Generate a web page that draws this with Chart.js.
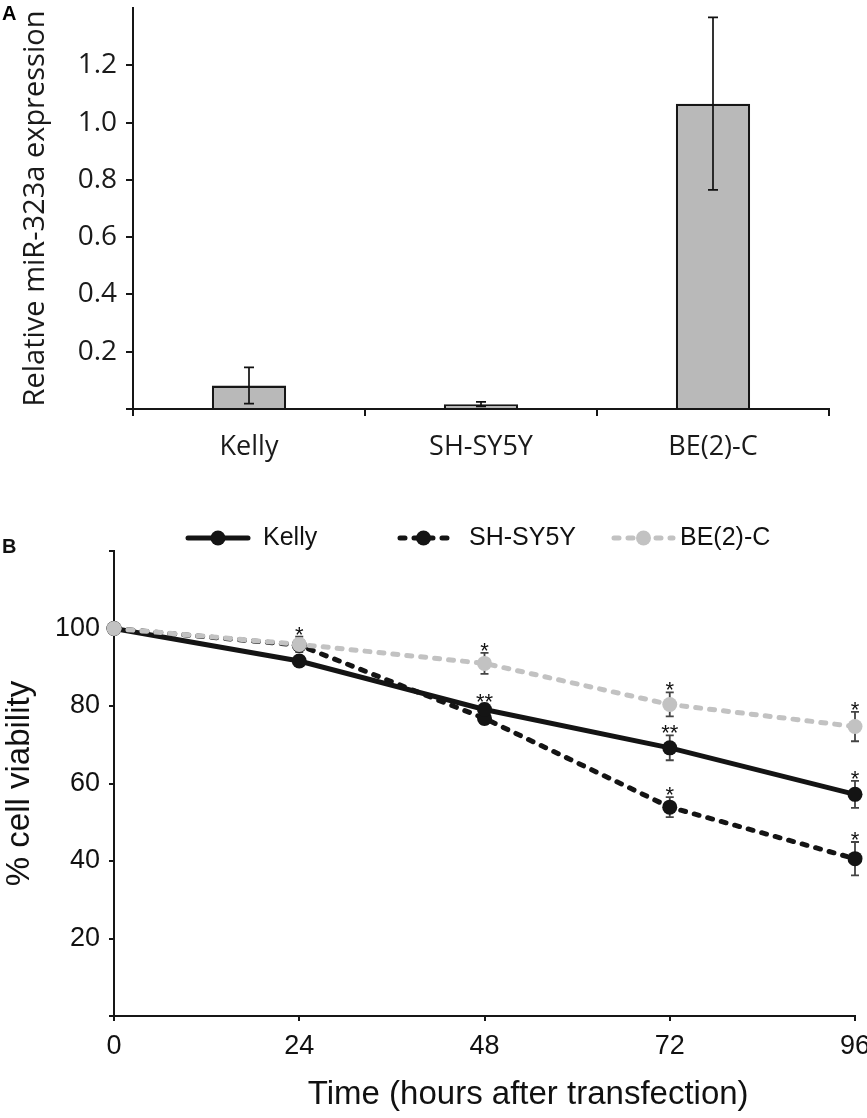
<!DOCTYPE html>
<html>
<head>
<meta charset="utf-8">
<script src="https://cdn.jsdelivr.net/npm/chart.js@4.4.1/dist/chart.umd.min.js"></script>
<style>
  html, body { margin: 0; padding: 0; background: #fff; }
  #wrap { position: relative; width: 867px; height: 1118px; }
  #boxA { position: absolute; left: 0; top: 0; width: 867px; height: 470px; }
  #boxB { position: absolute; left: 0; top: 480px; width: 867px; height: 638px; }
</style>
</head>
<body>
<div id="wrap">
  <div id="boxA"><canvas id="chartA"></canvas></div>
  <div id="boxB"><canvas id="chartB"></canvas></div>
</div>
<script>
// ---------- Panel A data ----------
const cellLines = ['Kelly', 'SH-SY5Y', 'BE(2)-C'];
const expression = [0.082, 0.017, 1.066];
const expressionErr = [0.063, 0.008, 0.301];
const expressionTicks = [0.2, 0.4, 0.6, 0.8, 1.0, 1.2];

// ---------- Panel B data ----------
const hours = [0, 24, 48, 72, 96];
const hourTicks = [0, 24, 48, 72, 96];
const viabilityTicks = [20, 40, 60, 80, 100];
const kellyViability = [100, 91.6, 79.1, 69.2, 57.2];
const kellyErr = [0, 1.0, 1.5, 3.2, 3.5];
const shsy5yViability = [100, 95.7, 76.8, 53.9, 40.6];
const shsy5yErr = [0, 1.0, 1.5, 2.6, 4.3];
const be2cViability = [100, 95.9, 91.0, 80.4, 74.7];
const be2cErr = [0, 2.0, 2.7, 3.1, 3.8];
const kellySig = ['', '', '**', '**', '*'];
const shsy5ySig = ['', '', '', '*', '*'];
const be2cSig = ['', '*', '*', '*', '*'];
const xTitleB = 'Time (hours after transfection)';

const fontA = "'Open Sans', 'Noto Sans', sans-serif";
const fontB = "'Liberation Sans', Arial, sans-serif";

// ---------- Panel A ----------
const errorBarsA = {
  id: 'errorBarsA',
  afterDatasetsDraw(chart) {
    const ctx = chart.ctx;
    const meta = chart.getDatasetMeta(0);
    const y = chart.scales.y;
    ctx.save();
    ctx.strokeStyle = '#111';
    ctx.lineWidth = 1.7;
    meta.data.forEach((bar, i) => {
      const top = y.getPixelForValue(expression[i] + expressionErr[i]);
      const bot = y.getPixelForValue(Math.max(0, expression[i] - expressionErr[i]));
      const x = bar.x;
      ctx.beginPath();
      ctx.moveTo(x, top); ctx.lineTo(x, bot);
      ctx.moveTo(x - 5, top); ctx.lineTo(x + 5, top);
      ctx.moveTo(x - 5, bot); ctx.lineTo(x + 5, bot);
      ctx.stroke();
    });
    ctx.fillStyle = '#000';
    ctx.font = "bold 20px 'Liberation Sans', Arial, sans-serif";
    ctx.textBaseline = 'middle';
    ctx.textAlign = 'left';
    ctx.fillText('A', 2, 14);
    ctx.restore();
  }
};

new Chart(document.getElementById('chartA'), {
  type: 'bar',
  data: {
    labels: cellLines,
    datasets: [{
      data: expression,
      backgroundColor: '#b9b9b9',
      borderColor: '#161616',
      borderWidth: 2.4,
      borderSkipped: 'start',
      categoryPercentage: 1.0,
      barPercentage: 0.32
    }]
  },
  options: {
    responsive: true,
    maintainAspectRatio: false,
    animation: false,
    layout: { padding: { left: 0, top: 8, right: 38, bottom: 0 } },
    plugins: { legend: { display: false }, tooltip: { enabled: false } },
    scales: {
      x: {
        grid: { display: true, offset: true, drawOnChartArea: false, drawTicks: true, tickLength: 7, color: '#161616', lineWidth: 2 },
        border: { display: true, color: '#161616', width: 2 },
        ticks: { color: '#1a1a1a', font: { family: fontA, size: 27 }, padding: 15 },
        afterFit(s) { s.height = 61; s.paddingLeft = 0; s.paddingRight = 0; }
      },
      y: {
        min: 0, max: 1.4,
        grid: {
          display: true, drawOnChartArea: false, drawTicks: true, tickLength: 7, lineWidth: 2,
          color: (c) => (c.tick && Math.abs(c.tick.value - 1.4) < 1e-6) ? 'rgba(0,0,0,0)' : '#161616'
        },
        border: { display: true, color: '#161616', width: 2 },
        ticks: {
          stepSize: 0.2,
          color: '#1a1a1a',
          font: { family: fontA, size: 28 },
          padding: 9,
          callback: (v) => expressionTicks.some(t => Math.abs(t - v) < 1e-6) ? Number(v).toFixed(1) : ''
        },
        title: { display: true, text: 'Relative miR-323a expression', color: '#1a1a1a', font: { family: fontA, size: 29 }, padding: { top: 18, bottom: 0 } },
        afterFit(s) { s.width = 133; s.paddingTop = 0; s.paddingBottom = 0; }
      }
    }
  },
  plugins: [errorBarsA]
});

// ---------- Panel B ----------
const seriesB = [
  { label: 'Kelly', values: kellyViability, err: kellyErr, sig: kellySig },
  { label: 'SH-SY5Y', values: shsy5yViability, err: shsy5yErr, sig: shsy5ySig },
  { label: 'BE(2)-C', values: be2cViability, err: be2cErr, sig: be2cSig }
];
const legendSlots = [
  { x0: 188, x1: 248, tx: 263 },
  { x0: 400, x1: 447, tx: 469 },
  { x0: 614, x1: 673, tx: 680 }
];

const extrasB = {
  id: 'extrasB',
  beforeDatasetsDraw(chart) {
    const ctx = chart.ctx;
    const xs = chart.scales.x, ys = chart.scales.y;
    ctx.save();
    ctx.strokeStyle = '#444';
    ctx.lineWidth = 1.8;
    seriesB.forEach(s => {
      hours.forEach((h, i) => {
        if (!s.err[i]) return;
        const x = xs.getPixelForValue(h);
        const top = ys.getPixelForValue(s.values[i] + s.err[i]);
        const bot = ys.getPixelForValue(s.values[i] - s.err[i]);
        ctx.beginPath();
        ctx.moveTo(x, top); ctx.lineTo(x, bot);
        ctx.moveTo(x - 4, top); ctx.lineTo(x + 4, top);
        ctx.moveTo(x - 4, bot); ctx.lineTo(x + 4, bot);
        ctx.stroke();
      });
    });
    ctx.restore();
  },
  afterDatasetsDraw(chart) {
    const ctx = chart.ctx;
    const xs = chart.scales.x, ys = chart.scales.y;
    ctx.save();
    ctx.fillStyle = '#111';
    ctx.font = "22px " + fontB;
    ctx.textAlign = 'center';
    ctx.textBaseline = 'alphabetic';
    seriesB.forEach(s => {
      hours.forEach((h, i) => {
        if (!s.sig[i]) return;
        const x = xs.getPixelForValue(h);
        const top = ys.getPixelForValue(s.values[i] + s.err[i]);
        ctx.fillText(s.sig[i], x, top + 5);
      });
    });
    // legend
    const ly = 58;
    chart.data.datasets.forEach((ds, i) => {
      const slot = legendSlots[i];
      ctx.save();
      ctx.strokeStyle = ds.borderColor;
      ctx.lineWidth = ds.borderWidth;
      ctx.lineCap = 'round';
      ctx.setLineDash(ds.borderDash || []);
      ctx.beginPath();
      ctx.moveTo(slot.x0, ly); ctx.lineTo(slot.x1, ly);
      ctx.stroke();
      ctx.setLineDash([]);
      ctx.fillStyle = ds.pointBackgroundColor;
      ctx.beginPath();
      ctx.arc((slot.x0 + slot.x1) / 2, ly, ds.pointRadius, 0, Math.PI * 2);
      ctx.fill();
      ctx.restore();
      ctx.fillStyle = '#111';
      ctx.font = "25px " + fontB;
      ctx.textAlign = 'left';
      ctx.textBaseline = 'middle';
      ctx.fillText(ds.label, slot.tx, ly);
    });
    // x-axis title (sits right of the plot centre in the original)
    ctx.font = "33px " + fontB;
    ctx.textAlign = 'center';
    ctx.textBaseline = 'middle';
    ctx.fillText(xTitleB, xs.left + (xs.right - xs.left) * 0.559, xs.bottom - 23);
    ctx.font = "bold 20px " + fontB;
    ctx.textAlign = 'left';
    ctx.fillText('B', 2, 67);
    ctx.restore();
  }
};

new Chart(document.getElementById('chartB'), {
  type: 'line',
  data: {
    datasets: [
      {
        label: seriesB[0].label,
        data: hours.map((h, i) => ({ x: h, y: kellyViability[i] })),
        borderColor: '#141414', borderWidth: 5,
        pointRadius: 7.5, pointBackgroundColor: '#141414', pointBorderWidth: 0,
        order: 1, clip: false
      },
      {
        label: seriesB[1].label,
        data: hours.map((h, i) => ({ x: h, y: shsy5yViability[i] })),
        borderColor: '#141414', borderWidth: 5, borderDash: [5, 9], borderCapStyle: 'round',
        pointRadius: 7.5, pointBackgroundColor: '#141414', pointBorderWidth: 0,
        order: 2, clip: false
      },
      {
        label: seriesB[2].label,
        data: hours.map((h, i) => ({ x: h, y: be2cViability[i] })),
        borderColor: '#c2c2c2', borderWidth: 5, borderDash: [5, 9], borderCapStyle: 'round',
        pointRadius: 7.5, pointBackgroundColor: '#c2c2c2', pointBorderWidth: 0,
        order: 0, clip: false
      }
    ]
  },
  options: {
    responsive: true,
    maintainAspectRatio: false,
    animation: false,
    layout: { padding: { left: 0, top: 71, right: 12, bottom: 0 } },
    plugins: { legend: { display: false }, tooltip: { enabled: false } },
    scales: {
      x: {
        type: 'linear', min: 0, max: 96,
        afterBuildTicks(s) { s.ticks = hourTicks.map(v => ({ value: v })); },
        grid: { display: true, drawOnChartArea: false, drawTicks: true, tickLength: 5, color: '#161616', lineWidth: 2 },
        border: { display: true, color: '#161616', width: 2 },
        ticks: { color: '#111', font: { family: fontB, size: 27 }, padding: 9 },
        title: { display: false },
        afterFit(s) { s.height = 102; s.paddingLeft = 0; s.paddingRight = 0; }
      },
      y: {
        min: 0, max: 120,
        grid: { display: true, drawOnChartArea: false, drawTicks: true, tickLength: 5, color: '#161616', lineWidth: 2 },
        border: { display: true, color: '#161616', width: 2 },
        ticks: {
          stepSize: 20, color: '#111', font: { family: fontB, size: 27 }, padding: 9,
          callback: (v) => viabilityTicks.includes(v) ? String(v) : ''
        },
        title: { display: true, text: '% cell viability', color: '#111', font: { family: fontB, size: 33 }, padding: { top: 0, bottom: 0 } },
        afterFit(s) { s.width = 114; s.paddingTop = 0; s.paddingBottom = 0; }
      }
    }
  },
  plugins: [extrasB]
});
</script>
</body>
</html>
